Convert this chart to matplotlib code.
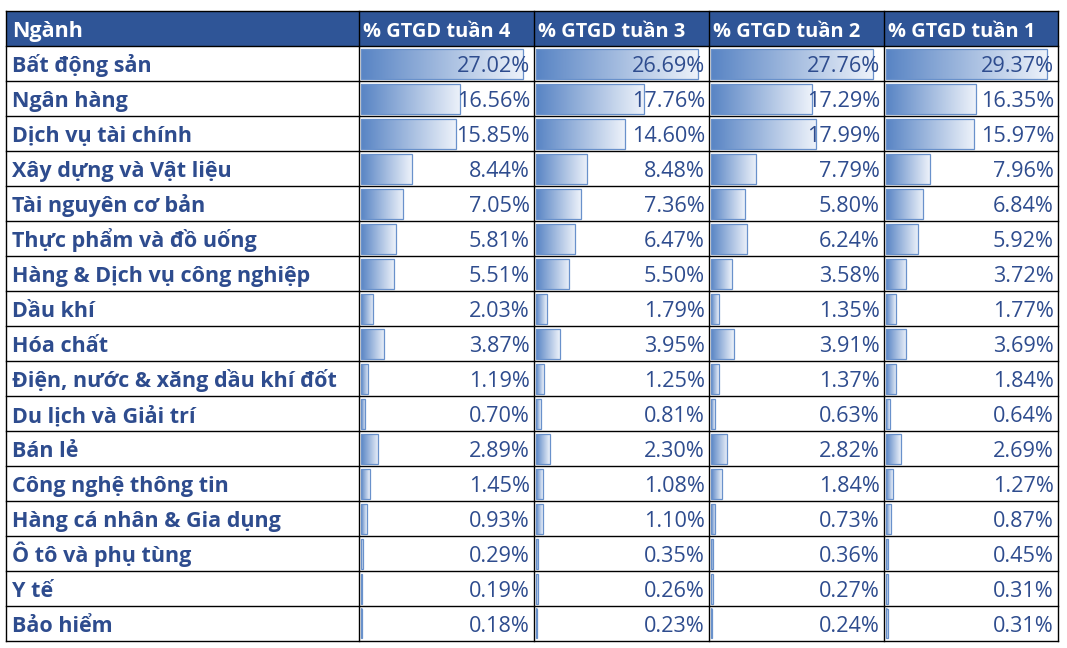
import numpy as np
import matplotlib
matplotlib.use("Agg")
import matplotlib.pyplot as plt
from matplotlib.patches import Rectangle
from matplotlib.colors import LinearSegmentedColormap

header_first = "Ngành"
weeks = ["% GTGD tuần 4", "% GTGD tuần 3", "% GTGD tuần 2", "% GTGD tuần 1"]
sectors = ["Bất động sản", "Ngân hàng", "Dịch vụ tài chính", "Xây dựng và Vật liệu",
           "Tài nguyên cơ bản", "Thực phẩm và đồ uống", "Hàng & Dịch vụ công nghiệp",
           "Dầu khí", "Hóa chất", "Điện, nước & xăng dầu khí đốt", "Du lịch và Giải trí",
           "Bán lẻ", "Công nghệ thông tin", "Hàng cá nhân & Gia dụng", "Ô tô và phụ tùng",
           "Y tế", "Bảo hiểm"]
tuan4 = [27.02, 16.56, 15.85, 8.44, 7.05, 5.81, 5.51, 2.03, 3.87, 1.19, 0.70, 2.89, 1.45, 0.93, 0.29, 0.19, 0.18]
tuan3 = [26.69, 17.76, 14.60, 8.48, 7.36, 6.47, 5.50, 1.79, 3.95, 1.25, 0.81, 2.30, 1.08, 1.10, 0.35, 0.26, 0.23]
tuan2 = [27.76, 17.29, 17.99, 7.79, 5.80, 6.24, 3.58, 1.35, 3.91, 1.37, 0.63, 2.82, 1.84, 0.73, 0.36, 0.27, 0.24]
tuan1 = [29.37, 16.35, 15.97, 7.96, 6.84, 5.92, 3.72, 1.77, 3.69, 1.84, 0.64, 2.69, 1.27, 0.87, 0.45, 0.31, 0.31]
series = [tuan4, tuan3, tuan2, tuan1]

plt.rcParams['font.family'] = ['Open Sans', 'DejaVu Sans']

W, H = 1067, 648
fig = plt.figure(figsize=(W / 100, H / 100), dpi=100)
ax = fig.add_axes([0, 0, 1, 1])
ax.set_xlim(0, W)
ax.set_ylim(H, 0)
ax.axis('off')

col_edges = [6, 359, 534, 709, 884, 1058]
top = 11
nrows = len(sectors) + 1
bottom = 640.5
rowh = (bottom - top) / nrows
base_off = 26.5

header_bg = '#2F5597'
text_col = '#2E4C8E'
bar_edge = '#6991CB'
cmap = LinearSegmentedColormap.from_list('db', ['#5884C4', '#EDF2FA'])
grad = np.linspace(0, 1, 256).reshape(1, -1)

fs_head = 14.4
fs_cat = 15.5
fs_val = 15.6

# header background
ax.add_patch(Rectangle((col_edges[0], top), col_edges[-1] - col_edges[0], rowh,
                       facecolor=header_bg, edgecolor='none', zorder=1))
ax.text(col_edges[0] + 6, top + 26, header_first, color='white', fontsize=fs_cat,
        fontweight='bold', va='baseline', ha='left', zorder=5)
for j, wk in enumerate(weeks):
    ax.text(col_edges[j + 1] + 4, top + 26, wk, color='white', fontsize=fs_head,
            fontweight='bold', va='baseline', ha='left', zorder=5)

bar_frac = 0.925
for j, vals in enumerate(series):
    x0 = col_edges[j + 1] + 2
    cw = col_edges[j + 2] - col_edges[j + 1]
    vmax = max(vals)
    for i, v in enumerate(vals):
        y0 = top + rowh * (i + 1)
        w = v / vmax * cw * bar_frac
        by0, by1 = y0 + 3, y0 + rowh - 2
        ax.imshow(grad, cmap=cmap, aspect='auto', interpolation='bilinear',
                  extent=(x0, x0 + w, by1, by0), zorder=2)
        ax.add_patch(Rectangle((x0, by0), w, by1 - by0, facecolor='none',
                               edgecolor=bar_edge, lw=0.9, zorder=3))
        ax.text(col_edges[j + 2] - 4, y0 + base_off, f"{v:.2f}%", color=text_col,
                fontsize=fs_val, va='baseline', ha='right', zorder=5)

for i, s in enumerate(sectors):
    y0 = top + rowh * (i + 1)
    ax.text(col_edges[0] + 6, y0 + base_off, s, color=text_col, fontsize=fs_cat,
            fontweight='bold', va='baseline', ha='left', zorder=5)

# grid lines
for k in range(nrows + 1):
    y = top + rowh * k
    ax.plot([col_edges[0], col_edges[-1]], [y, y], color='black', lw=1.0, zorder=6,
            solid_capstyle='projecting')
for x in col_edges:
    ax.plot([x, x], [top, bottom], color='black', lw=1.0, zorder=6,
            solid_capstyle='projecting')

ax.set_xlim(0, W)
ax.set_ylim(H, 0)
fig.savefig('out.png', dpi=100, facecolor='white')
